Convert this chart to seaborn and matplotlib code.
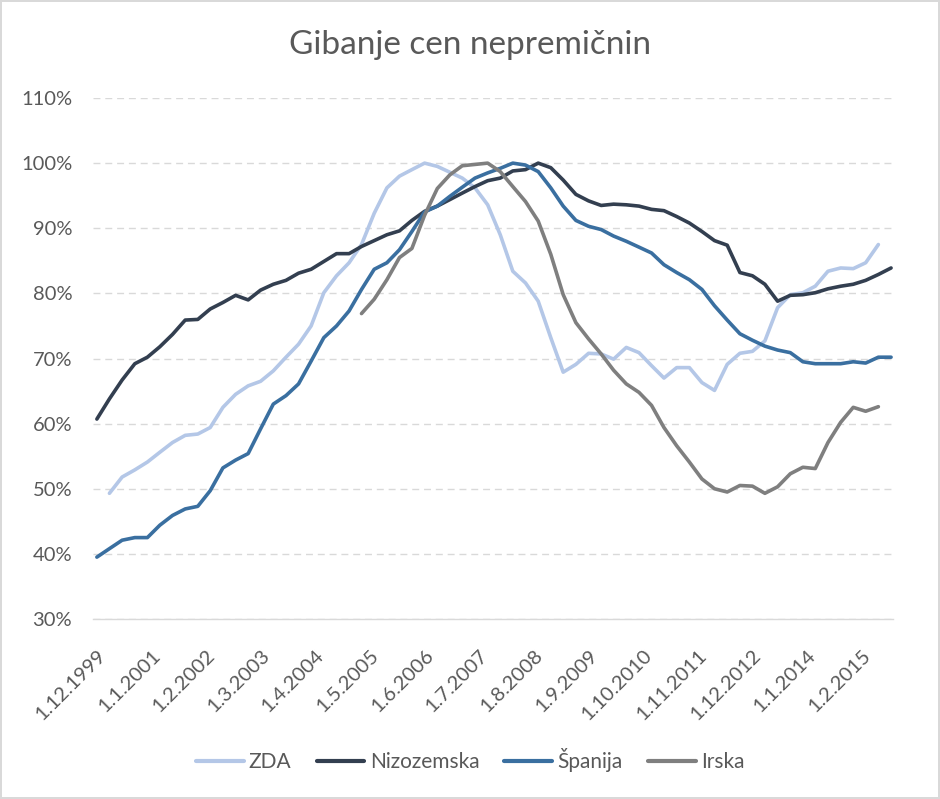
import numpy as np
import pandas as pd
import seaborn as sns
import matplotlib.pyplot as plt

# quarterly index, 100% = peak of each country
dates = pd.date_range('1999-12-01', periods=64, freq='3MS')
nan = np.nan

zda = [nan, 49.3, 51.8, 52.9, 54.1, 55.6, 57.1, 58.2, 58.4, 59.4, 62.5, 64.5, 65.8,
       66.5, 68.1, 70.2, 72.2, 75.0, 80.1, 82.7, 84.7, 87.5, 92.3, 96.2, 98.0, 99.0,
       100.0, 99.5, 98.6, 97.7, 96.2, 93.6, 89.0, 83.4, 81.6, 78.8, 73.2, 67.9, 69.1,
       70.8, 70.7, 69.9, 71.7, 70.9, 68.9, 67.0, 68.6, 68.6, 66.3, 65.1, 69.1,
       70.8, 71.1, 72.7, 77.8, 79.8, 80.1, 81.1, 83.4, 83.9, 83.8, 84.7, 87.5, nan]
nizozemska = [60.7, 63.8, 66.7, 69.2, 70.2, 71.8, 73.7, 75.9, 76.0, 77.6, 78.6, 79.7, 79.0,
              80.5, 81.4, 82.0, 83.1, 83.7, 84.9, 86.1, 86.1, 87.2, 88.1, 89.0, 89.6, 91.2,
              92.6, 93.4, 94.4, 95.4, 96.4, 97.3, 97.7, 98.8, 99.0, 100.0, 99.3, 97.4, 95.2,
              94.2, 93.5, 93.7, 93.6, 93.4, 92.9, 92.7, 91.8, 90.8, 89.5, 88.1, 87.4,
              83.2, 82.7, 81.4, 78.8, 79.7, 79.8, 80.1, 80.7, 81.1, 81.4, 82.0, 82.9, 83.9]
spanija = [39.5, 40.8, 42.1, 42.5, 42.5, 44.4, 45.9, 46.9, 47.3, 49.7, 53.2, 54.4, 55.4,
           59.2, 63.0, 64.3, 66.1, 69.6, 73.2, 75.0, 77.3, 80.6, 83.7, 84.7, 86.7, 89.5,
           92.5, 93.4, 94.9, 96.3, 97.7, 98.5, 99.2, 100.0, 99.7, 98.7, 96.2, 93.4, 91.2,
           90.3, 89.8, 88.8, 88.0, 87.1, 86.2, 84.4, 83.2, 82.1, 80.6, 78.1, 75.9,
           73.8, 72.8, 71.9, 71.3, 70.9, 69.5, 69.2, 69.2, 69.2, 69.5, 69.3, 70.2, 70.2]
irska = [nan] * 21 + [76.9, 79.1, 82.1, 85.5, 86.9,
         92.0, 96.1, 98.2, 99.6, 99.8, 100.0, 98.7, 96.4, 94.1, 91.1, 86.0, 79.8, 75.5,
         73.0, 70.7, 68.2, 66.1, 64.8, 62.8, 59.4, 56.6, 54.1, 51.5, 50.0, 49.5,
         50.5, 50.4, 49.3, 50.3, 52.3, 53.3, 53.1, 57.1, 60.2, 62.5, 61.9, 62.6, nan]

series = ['ZDA', 'Nizozemska', 'Španija', 'Irska']
colors = ['#b4c7e7', '#333f50', '#3a6fa0', '#7f7f7f']
tick_labels = ['1.12.1999', '1.1.2001', '1.2.2002', '1.3.2003', '1.4.2004', '1.5.2005',
               '1.6.2006', '1.7.2007', '1.8.2008', '1.9.2009', '1.10.2010', '1.11.2011',
               '1.12.2012', '1.1.2014', '1.2.2015']

df = pd.DataFrame({'datum': dates, 'ZDA': zda, 'Nizozemska': nizozemska,
                   'Španija': spanija, 'Irska': irska})
long = df.melt(id_vars='datum', var_name='drzava', value_name='vrednost').dropna()

sns.set_style('white')
plt.rcParams['font.family'] = ['Lato', 'DejaVu Sans']
txt = '#595959'

fig = plt.figure(figsize=(9.4, 7.99), dpi=100)
ax = fig.add_axes([93 / 940, 1 - 619 / 799, 800 / 940, (619 - 98) / 799])

sns.lineplot(data=long, x='datum', y='vrednost', hue='drzava', hue_order=series,
             palette=colors, linewidth=2.6, ax=ax, legend=False)

ax.set_ylim(30, 110)
ax.set_yticks(range(30, 111, 10))
ax.set_yticklabels([f'{v}%' for v in range(30, 111, 10)])
ax.set_xlim(pd.Timestamp('1999-11-03'), pd.Timestamp('2015-09-15'))
ax.set_xticks(pd.to_datetime(tick_labels, format='%d.%m.%Y'))
ax.set_xticklabels(tick_labels, rotation=45, ha='right', rotation_mode='anchor')
ax.set_xlabel('')
ax.set_ylabel('')

ax.yaxis.grid(True, color='#d9d9d9', linewidth=1.0, linestyle=(0, (5, 3.5)))
ax.xaxis.grid(False)
for s in ['top', 'right', 'left']:
    ax.spines[s].set_visible(False)
ax.spines['bottom'].set_color('#d9d9d9')
ax.spines['bottom'].set_linewidth(1.0)
ax.tick_params(axis='both', length=0, labelsize=14.5, colors=txt)
ax.tick_params(axis='x', pad=20)
ax.tick_params(axis='y', pad=15)

fig.suptitle('Gibanje cen nepremičnin', y=1 - 45 / 799, va='center',
             fontsize=24, color=txt)

handles = [plt.Line2D([], [], color=c, linewidth=3) for c in colors]
fig.legend(handles, series, loc='center', bbox_to_anchor=(0.5, 1 - 760 / 799), ncol=4,
           frameon=False, fontsize=15, labelcolor=txt, handlelength=2.3,
           handletextpad=0.25, columnspacing=1.2)

fig.patch.set_edgecolor('#d9d9d9')
fig.patch.set_linewidth(1.5)
fig.savefig('out.png', dpi=100, edgecolor=fig.get_edgecolor())
